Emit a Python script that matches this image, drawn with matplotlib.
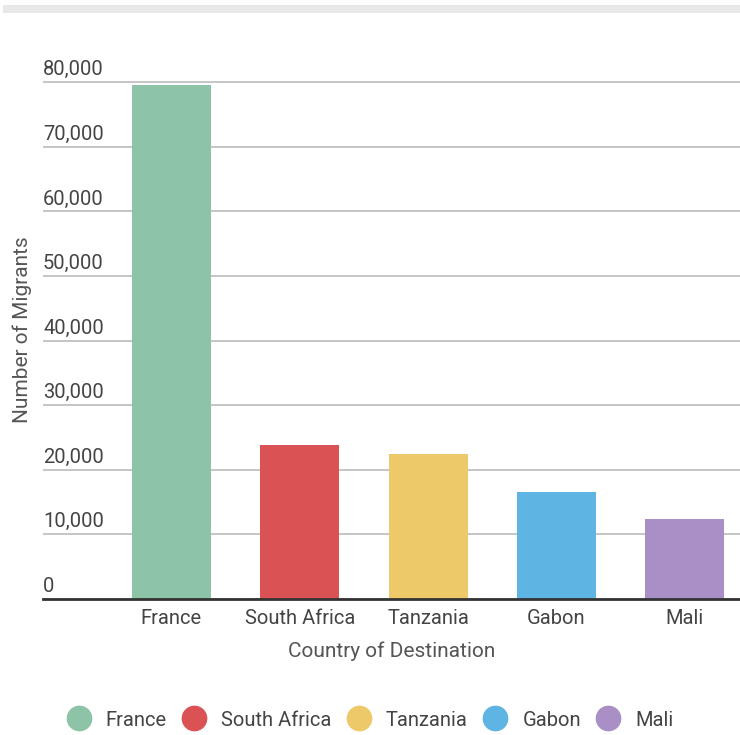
#!/usr/bin/env python3

# Bar chart of migrant numbers by country of destination

import matplotlib
matplotlib.use("Agg")
import matplotlib.pyplot as plt
from matplotlib.lines import Line2D
from matplotlib.patches import Rectangle
from matplotlib.ticker import FuncFormatter
from matplotlib.transforms import ScaledTranslation

countries = ["France", "South Africa", "Tanzania", "Gabon", "Mali"]
migrants = [79600, 23800, 22400, 16500, 12400]
colours = ["#8dc3a7", "#db5254", "#edc96a", "#5eb5e3", "#aa8fc7"]
yticks = [0, 10000, 20000, 30000, 40000, 50000, 60000, 70000, 80000]

plt.rcParams["font.family"] = ["Roboto", "DejaVu Sans"]
text_grey = "#555555"

fig = plt.figure(figsize=(7.4, 7.35), dpi=100)
ax = fig.add_axes([43 / 740, 136 / 735, 697 / 740, (599 - 79) / 735])

# light strip across the top
fig.add_artist(Rectangle((3 / 740, 1 - 13 / 735), 1, 8 / 735,
                         transform=fig.transFigure, color="#e8e8e8", lw=0))

x = range(len(countries))
ax.bar(x, migrants, width=0.616, color=colours, zorder=2)

ax.set_xlim(-1.0, 4.43)
ax.set_ylim(0, 80500)
ax.set_yticks(yticks)
ax.yaxis.set_major_formatter(FuncFormatter(lambda v, p: f"{int(v):,}"))
ax.set_xticks(list(x))
ax.set_xticklabels(countries)

ax.grid(axis="y", color="#b5b5b5", lw=1.1, zorder=0)
for s in ["top", "right", "left"]:
    ax.spines[s].set_visible(False)
ax.spines["bottom"].set_color("#333333")
ax.spines["bottom"].set_linewidth(2)
ax.spines["bottom"].set_zorder(3)

ax.tick_params(axis="both", length=0, labelsize=14.5, labelcolor="#444444")
ax.tick_params(axis="x", pad=7)
ax.tick_params(axis="y", pad=0)

# y labels sit on top of their gridlines, flush with the left edge
shift = ScaledTranslation(0, 3 / 100, fig.dpi_scale_trans)
for lab in ax.get_yticklabels():
    lab.set_horizontalalignment("left")
    lab.set_verticalalignment("bottom")
    lab.set_transform(lab.get_transform() + shift)

ax.set_xlabel("Country of Destination", fontsize=15, color=text_grey, labelpad=10)
fig.text(22 / 740, 1 - 330 / 735, "Number of Migrants", rotation=90,
         fontsize=15, color=text_grey, ha="center", va="center")

handles = [Line2D([], [], marker="o", ls="none", markersize=17.5,
                  markerfacecolor=c, markeredgecolor=c) for c in colours]
fig.legend(handles, countries, loc="center", bbox_to_anchor=(370 / 740, 1 - 720 / 735),
           ncol=5, frameon=False, fontsize=14.5, labelcolor="#444444",
           handletextpad=0.75, columnspacing=0.75, handlelength=1.2)

fig.savefig("out.png", dpi=100, facecolor="white")
